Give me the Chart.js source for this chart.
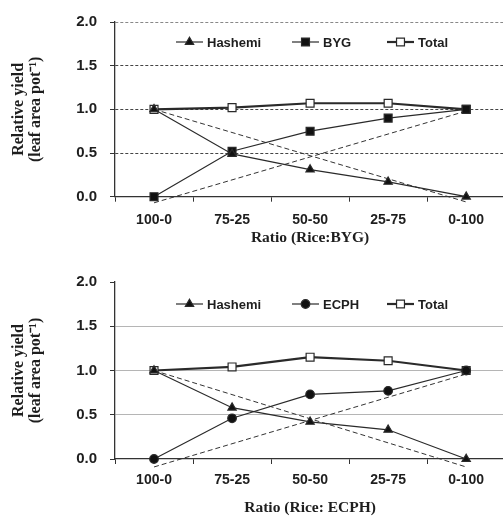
<!DOCTYPE html>
<html>
<head>
<meta charset="utf-8">
<script src="https://cdn.jsdelivr.net/npm/chart.js@4.4.1/dist/chart.umd.min.js"></script>
<style>
  html, body { margin: 0; padding: 0; background: #fff; overflow: hidden; width: 503px; height: 518px; }
  canvas { display: block; }
</style>
</head>
<body>
<canvas id="c1" width="512" height="260"></canvas>
<canvas id="c2" width="512" height="258"></canvas>
<script>
// ---- data ----
const categories = ['100-0', '75-25', '50-50', '25-75', '0-100'];
const yTicks = [0, 0.5, 1.0, 1.5, 2.0];

const hashemiTop = [1.0, 0.49, 0.31, 0.17, 0.0];
const bygTop     = [0.0, 0.52, 0.75, 0.90, 1.0];
const totalTop   = [1.0, 1.02, 1.07, 1.07, 1.0];
const expRiceTop = [1.0, null, null, null, -0.06];
const expWeedTop = [-0.07, null, null, null, 0.98];

const hashemiBot = [1.0, 0.58, 0.42, 0.33, 0.0];
const ecphBot    = [0.0, 0.46, 0.73, 0.77, 1.0];
const totalBot   = [1.0, 1.04, 1.15, 1.11, 1.0];
const expRiceBot = [1.0, null, null, null, -0.09];
const expWeedBot = [-0.09, null, null, null, 0.96];

const SANS = "'Liberation Sans', Arial, sans-serif";
const SERIF = "'Liberation Serif', 'Times New Roman', serif";
const INK = '#1e1e1e';

function drawMarker(ctx, style, x, y, r, fill, stroke, bw) {
  ctx.save();
  ctx.beginPath();
  if (style === 'triangle') {
    for (let k = 0; k < 3; k++) {
      const a = k * 2 * Math.PI / 3;
      const px = x + Math.sin(a) * r, py = y - Math.cos(a) * r;
      if (k === 0) ctx.moveTo(px, py); else ctx.lineTo(px, py);
    }
    ctx.closePath();
  } else if (style === 'rect') {
    const s = r * Math.SQRT1_2;
    ctx.rect(x - s, y - s, 2 * s, 2 * s);
  } else {
    ctx.arc(x, y, r, 0, Math.PI * 2);
  }
  ctx.fillStyle = fill; ctx.fill();
  ctx.lineWidth = bw; ctx.strokeStyle = stroke; ctx.stroke();
  ctx.restore();
}

const insideLegend = {
  id: 'insideLegend',
  afterDraw(chart, args, opts) {
    const ctx = chart.ctx;
    ctx.save();
    opts.items.forEach(it => {
      const ds = chart.data.datasets[it.index];
      const y = opts.y;
      ctx.beginPath();
      ctx.lineWidth = ds.borderWidth;
      ctx.strokeStyle = ds.borderColor;
      ctx.setLineDash([]);
      ctx.moveTo(it.x, y);
      ctx.lineTo(it.x + opts.lineLen, y);
      ctx.stroke();
      drawMarker(ctx, ds.pointStyle, it.x + opts.lineLen / 2, y, ds.pointRadius,
        ds.pointBackgroundColor, ds.pointBorderColor, ds.pointBorderWidth);
      ctx.fillStyle = INK;
      ctx.font = "bold 13px " + SANS;
      ctx.textAlign = 'left';
      ctx.textBaseline = 'middle';
      ctx.fillText(ds.label, it.x + opts.lineLen + 4, y + 1);
    });
    ctx.restore();
  }
};

function seriesDs(label, data, style, radius, fill, width) {
  return {
    label, data,
    borderColor: '#2a2a2a', borderWidth: width,
    pointStyle: style, pointRadius: radius, pointHoverRadius: radius,
    pointBackgroundColor: fill, pointBorderColor: '#2a2a2a', pointBorderWidth: 1.2,
    tension: 0, clip: false
  };
}
function dashDs(label, data) {
  return {
    label, data, spanGaps: true,
    borderColor: '#333', borderWidth: 1, borderDash: [5, 3],
    pointRadius: 0, pointHoverRadius: 0, tension: 0, clip: false
  };
}

function makeChart(id, cfg) {
  const datasets = [
    seriesDs('Hashemi', cfg.hashemi, 'triangle', 4.8, '#111', 1.2),
    seriesDs(cfg.weedName, cfg.weed, cfg.weedStyle, cfg.weedRadius, '#111', 1.2),
    seriesDs('Total', cfg.total, 'rect', 5.6, '#fff', 2.2),
    dashDs('Expected rice', cfg.expRice),
    dashDs('Expected weed', cfg.expWeed)
  ];
  return new Chart(document.getElementById(id), {
    type: 'line',
    data: { labels: categories, datasets },
    plugins: [insideLegend],
    options: {
      responsive: false,
      animation: false,
      events: [],
      layout: { padding: { top: cfg.padTop, right: 3.25, left: 0, bottom: 0 } },
      plugins: {
        legend: { display: false },
        tooltip: { enabled: false },
        insideLegend: {
          y: cfg.legendY, lineLen: 27,
          items: [{ index: 0, x: 176 }, { index: 1, x: 292 }, { index: 2, x: 387 }]
        }
      },
      scales: {
        x: {
          type: 'category',
          offset: true,
          afterFit: s => { s.height = cfg.xHeight; },
          grid: {
            display: true, drawOnChartArea: false, drawTicks: true,
            offset: true, tickLength: 5, tickColor: '#333', tickWidth: 1, tickBorderDash: []
          },
          border: { display: true, color: '#333', width: 1.3 },
          ticks: {
            color: INK, padding: cfg.xTickPad, maxRotation: 0, autoSkip: false,
            font: { family: SANS, size: 14, weight: 'bold' }
          },
          title: {
            display: true, text: cfg.xTitle, color: INK,
            padding: { top: 0, bottom: cfg.xTitlePad },
            font: { family: SERIF, size: 15.5, weight: 'bold', lineHeight: 1.2 }
          }
        },
        y: {
          min: 0, max: 2,
          afterFit: s => { s.width = 115; },
          afterBuildTicks: s => { s.ticks = yTicks.map(v => ({ value: v })); },
          grid: {
            display: true, drawTicks: true, tickLength: 5,
            color: c => cfg.gridColor(c.tick ? c.tick.value : null),
            lineWidth: 1,
            tickColor: '#333', tickWidth: 1, tickBorderDash: []
          },
          border: { display: true, color: '#333', width: 1.3, dash: cfg.gridDash },
          ticks: {
            color: INK, padding: 13,
            callback: v => Number(v).toFixed(1),
            font: { family: SANS, size: 15, weight: 'bold' }
          },
          title: {
            display: true, text: ['Relative yield', '(leaf area pot\u207B\u00B9)'], color: INK,
            padding: { top: 10.5, bottom: 0 },
            font: { family: SERIF, size: 16, weight: 'bold', lineHeight: '17px' }
          }
        }
      }
    }
  });
}

makeChart('c1', {
  hashemi: hashemiTop, weed: bygTop, total: totalTop, expRice: expRiceTop, expWeed: expWeedTop,
  weedName: 'BYG', weedStyle: 'rect', weedRadius: 5.6,
  xTitle: 'Ratio (Rice:BYG)',
  padTop: 20, xHeight: 63.3, xTickPad: 10, xTitlePad: 13, legendY: 42,
  gridDash: [3, 2],
  gridColor: v => v === 0 ? 'rgba(0,0,0,0)' : (v === 2 ? '#888' : '#444')
});

makeChart('c2', {
  hashemi: hashemiBot, weed: ecphBot, total: totalBot, expRice: expRiceBot, expWeed: expWeedBot,
  weedName: 'ECPH', weedStyle: 'circle', weedRadius: 4.3,
  xTitle: 'Ratio (Rice: ECPH)',
  padTop: 20.7, xHeight: 59, xTickPad: 7.6, xTitlePad: 1, legendY: 44,
  gridDash: [],
  gridColor: v => (v === 0 || v === 2) ? 'rgba(0,0,0,0)' : '#b5b5b5'
});
</script>
</body>
</html>
